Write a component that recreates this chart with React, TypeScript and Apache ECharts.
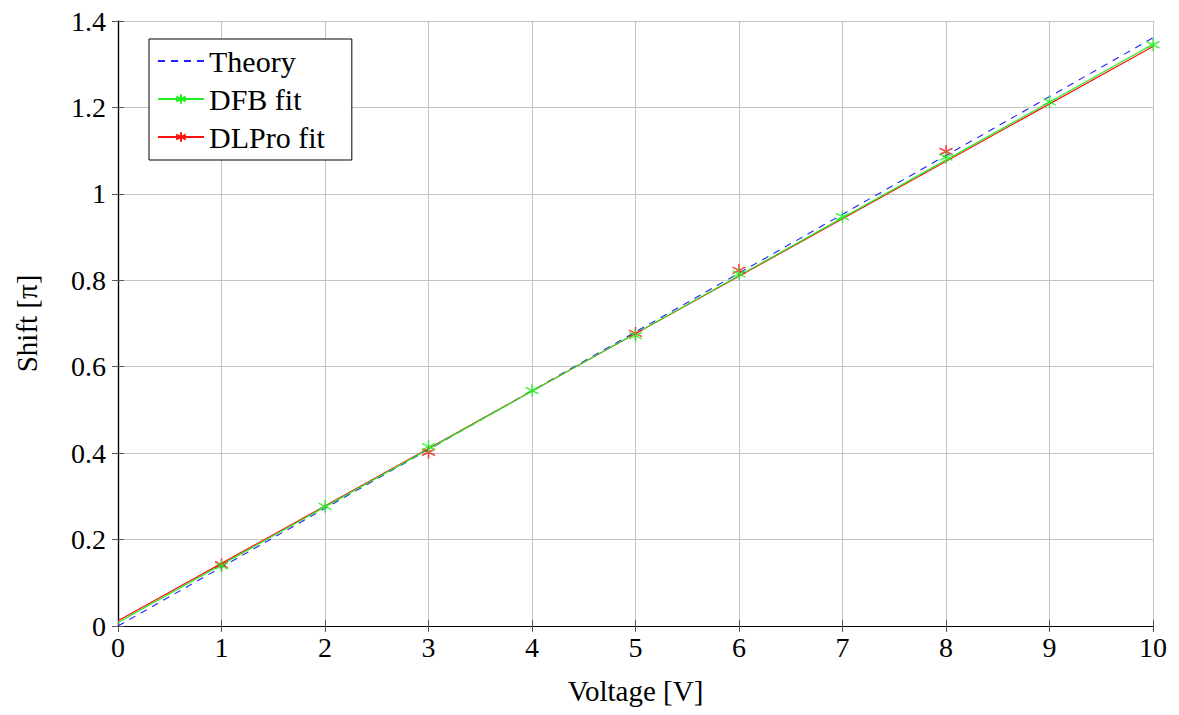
import React, { useEffect, useRef } from "react";
import * as echarts from "echarts";

const theoryLine: [number, number][] = [[0, 0.0], [10, 1.361]];
const dfbFitLine: [number, number][] = [[0, 0.008], [10, 1.346]];
const dlproFitLine: [number, number][] = [[0, 0.012], [10, 1.341]];

const dfbPoints: [number, number][] = [
  [1, 0.139], [2, 0.277], [3, 0.415], [4, 0.545], [5, 0.672],
  [6, 0.815], [7, 0.947], [8, 1.085], [9, 1.213], [10, 1.345],
];
const dlproPoints: [number, number][] = [
  [1, 0.142], [3, 0.402], [5, 0.677], [6, 0.823], [8, 1.098],
];

const seriesNames = ["Theory", "DFB fit", "DLPro fit"];
const colors = { theory: "#2020ff", dfb: "#22ee22", dlpro: "#ff1010" };

const asterisk = "path://M0,-1L0,1M-0.866,-0.5L0.866,0.5M-0.866,0.5L0.866,-0.5";
const FONT = "'Liberation Serif', 'DejaVu Serif', serif";

export default function App() {
  const ref = useRef<HTMLDivElement>(null);
  useEffect(() => {
    if (!ref.current) return;
    const chart = echarts.init(ref.current, null, { renderer: "svg" });
    const tickStyle = { show: true, inside: true, length: 6, lineStyle: { color: "#555", width: 1 } };
    chart.setOption({
      animation: false,
      backgroundColor: "#fff",
      textStyle: { fontFamily: FONT },
      grid: { left: 118, right: 26, top: 21, bottom: 89, show: false },
      legend: {
        orient: "vertical",
        left: 149,
        top: 39,
        data: [
          { name: seriesNames[0], itemStyle: { opacity: 0 } },
          { name: seriesNames[1] },
          { name: seriesNames[2] },
        ],
        backgroundColor: "#fff",
        borderColor: "#000",
        borderWidth: 1,
        borderRadius: 0,
        padding: [7, 27, 8, 8],
        itemWidth: 46,
        itemHeight: 12,
        itemGap: 8,
        textStyle: { fontFamily: FONT, fontSize: 30, color: "#000", padding: [0, 0, 0, 0] },
      },
      xAxis: [
        {
          type: "value", min: 0, max: 10, interval: 1, position: "bottom",
          name: "Voltage [V]", nameLocation: "middle", nameGap: 50,
          nameTextStyle: { fontFamily: FONT, fontSize: 29, color: "#000" },
          axisLine: { show: true, lineStyle: { color: "#000", width: 1.2 } },
          axisTick: tickStyle,
          axisLabel: { fontFamily: FONT, fontSize: 28, color: "#000", margin: 7 },
          splitLine: { show: true, lineStyle: { color: "#c4c4c4", width: 1 } },
        },
        {
          type: "value", min: 0, max: 10, interval: 1, position: "top",
          axisLine: { show: true, lineStyle: { color: "#000", width: 1.2 } },
          axisTick: tickStyle,
          axisLabel: { show: false },
          splitLine: { show: false },
        },
      ],
      yAxis: [
        {
          type: "value", min: 0, max: 1.4, interval: 0.2, position: "left",
          name: "Shift [π]", nameLocation: "middle", nameGap: 77,
          nameTextStyle: { fontFamily: FONT, fontSize: 29, color: "#000" },
          axisLine: { show: true, lineStyle: { color: "#000", width: 1.2 } },
          axisTick: tickStyle,
          axisLabel: { fontFamily: FONT, fontSize: 28, color: "#000", margin: 12 },
          splitLine: { show: true, lineStyle: { color: "#c4c4c4", width: 1 } },
        },
        {
          type: "value", min: 0, max: 1.4, interval: 0.2, position: "right",
          axisLine: { show: true, lineStyle: { color: "#000", width: 1.2 } },
          axisTick: tickStyle,
          axisLabel: { show: false },
          splitLine: { show: false },
        },
      ],
      series: [
        {
          name: "Theory", type: "line", data: theoryLine, showSymbol: false, symbol: "none",
          lineStyle: { color: colors.theory, width: 1.1, type: [7, 6] },
          itemStyle: { color: colors.theory }, z: 3,
        },
        {
          name: "DFB fit", type: "line", data: dfbFitLine, showSymbol: false, symbol: asterisk, symbolSize: 13,
          lineStyle: { color: colors.dfb, width: 1.2 },
          itemStyle: { color: colors.dfb, borderColor: colors.dfb, borderWidth: 1.5 }, z: 4,
        },
        {
          name: "DLPro fit", type: "line", data: dlproFitLine, showSymbol: false, symbol: asterisk, symbolSize: 13,
          lineStyle: { color: colors.dlpro, width: 1.2 },
          itemStyle: { color: colors.dlpro, borderColor: colors.dlpro, borderWidth: 1.5 }, z: 3,
        },
        {
          name: "DLPro fit", type: "scatter", data: dlproPoints, symbol: asterisk, symbolSize: 13,
          itemStyle: { color: colors.dlpro, borderColor: colors.dlpro, borderWidth: 1.5 }, z: 5,
        },
        {
          name: "DFB fit", type: "scatter", data: dfbPoints, symbol: asterisk, symbolSize: 13,
          itemStyle: { color: colors.dfb, borderColor: colors.dfb, borderWidth: 1.5 }, z: 6,
        },
      ],
    });
    return () => chart.dispose();
  }, []);
  return <div ref={ref} style={{ width: 1179, height: 715, position: "absolute", left: 0, top: 0 }} />;
}
